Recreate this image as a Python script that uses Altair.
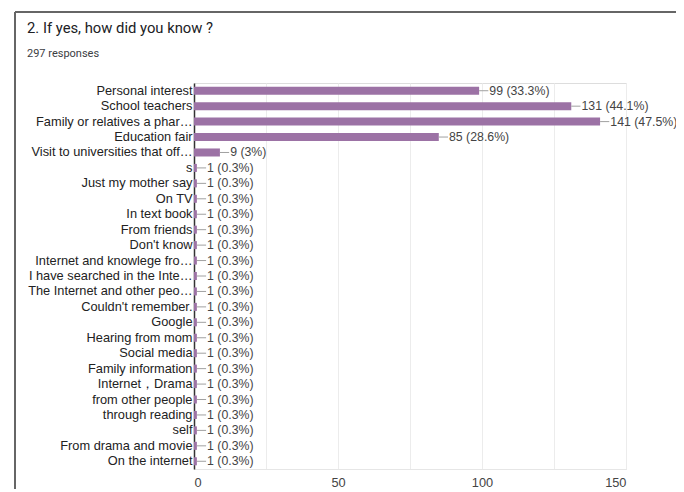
import altair as alt
import pandas as pd

TITLE = "2. If yes, how did you know ?"
SUBTITLE = "297 responses"

categories = [
    "Personal interest",
    "School teachers",
    "Family or relatives a phar…",
    "Education fair",
    "Visit to universities that off…",
    "s",
    "Just my mother say",
    "On TV",
    "In text book",
    "From friends",
    "Don't know",
    "Internet and knowlege fro…",
    "I have searched in the Inte…",
    "The Internet and other peo…",
    "Couldn't remember.",
    "Google",
    "Hearing from mom",
    "Social media",
    "Family information",
    "Internet，Drama",
    "from other people",
    "through reading",
    "self",
    "From drama and movie",
    "On the internet",
]
counts = [99, 131, 141, 85, 9] + [1] * 20
percents = ["33.3%", "44.1%", "47.5%", "28.6%", "3%"] + ["0.3%"] * 20
x_ticks = [0, 25, 50, 75, 100, 125, 150]

df = pd.DataFrame({"answer": categories, "count": counts, "pct": percents})
df["label"] = df["count"].astype(str) + " (" + df["pct"] + ")"

W, H = 432, 386
PAD_L, PAD_T, PAD_R, PAD_B = 186, 75, 50, 20
FS = 12.8
VFS = 12.3

y_enc = alt.Y(
    "answer:N",
    sort=categories,
    title=None,
    scale=alt.Scale(paddingInner=0.48, paddingOuter=0.24),
    axis=alt.Axis(
        labelFontSize=FS,
        labelFont="Liberation Sans",
        labelColor="#222222",
        labelLimit=300,
        labelPadding=2,
        ticks=False,
        domainColor="#333333",
        domainWidth=1.5,
        grid=False,
    ),
)
x_scale = alt.Scale(domain=[0, 150], nice=False)
x_enc = alt.X(
    "count:Q",
    title=None,
    scale=x_scale,
    axis=alt.Axis(
        values=x_ticks,
        labelExpr="datum.value % 50 == 0 ? datum.label : ''",
        labelFontSize=FS,
        labelFont="Liberation Sans",
        labelColor="#444444",
        labelPadding=7,
        ticks=False,
        domainColor="#e6e6e6",
        gridColor="#ececec",
        gridWidth=1,
    ),
)

base = alt.Chart(df)

bars = base.mark_bar(color="#9c72a5").encode(x=x_enc, y=y_enc)

leaders = (
    base.transform_calculate(lead_end="datum.count + 3.2")
    .mark_rule(color="#a0a0a0", strokeWidth=1)
    .encode(
        x=alt.X("count:Q", scale=x_scale),
        x2="lead_end:Q",
        y=alt.Y("answer:N", sort=categories),
    )
)

labels = (
    base.transform_calculate(lead_end="datum.count + 3.2")
    .mark_text(align="left", baseline="middle", dx=1, fontSize=VFS,
               font="Liberation Sans", color="#444444")
    .encode(
        x=alt.X("lead_end:Q", scale=x_scale),
        y=alt.Y("answer:N", sort=categories),
        text="label:N",
    )
)

title_txt = (
    alt.Chart(pd.DataFrame({"t": [TITLE]}))
    .mark_text(align="left", baseline="alphabetic", fontSize=14.8,
               font="Roboto", color="#202124")
    .encode(x=alt.value(-167), y=alt.value(-50), text="t:N")
)
sub_txt = (
    alt.Chart(pd.DataFrame({"t": [SUBTITLE]}))
    .mark_text(align="left", baseline="alphabetic", fontSize=11,
               font="Roboto", color="#3c4043")
    .encode(x=alt.value(-167), y=alt.value(-26), text="t:N")
)

frame_top = (
    alt.Chart(pd.DataFrame({"f": [0]}))
    .mark_rule(color="#666666", strokeWidth=2)
    .encode(x=alt.value(-179), x2=alt.value(W + PAD_R + 10), y=alt.value(-71))
)
frame_left = (
    alt.Chart(pd.DataFrame({"f": [0]}))
    .mark_rule(color="#666666", strokeWidth=2)
    .encode(x=alt.value(-179), y=alt.value(-71), y2=alt.value(H + PAD_B + 10))
)

chart = (
    alt.layer(bars, leaders, labels, title_txt, sub_txt, frame_top, frame_left)
    .properties(
        width=W,
        height=H,
        autosize=alt.AutoSizeParams(type="none"),
        padding={"left": PAD_L, "top": PAD_T, "right": PAD_R, "bottom": PAD_B},
    )
    .configure_view(stroke=None)
    .configure(background="white")
)

chart.save("out.html", embed_options={"renderer": "svg", "actions": False})
